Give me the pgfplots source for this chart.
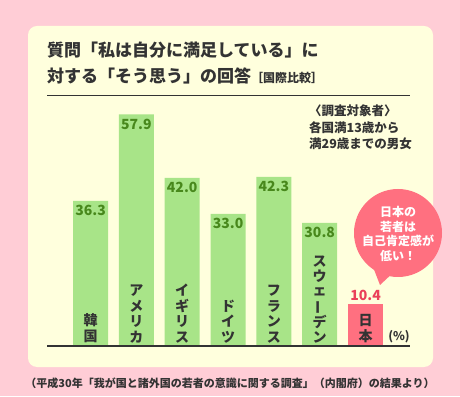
\documentclass[border=0pt]{standalone}
\usepackage{fontspec}
\setmainfont{Noto Sans CJK JP}
\usepackage{pgfplots}
\pgfplotsset{compat=1.18}
\definecolor{bgpink}{RGB}{255,205,214}
\definecolor{cream}{RGB}{255,255,221}
\definecolor{bargreen}{RGB}{168,228,136}
\definecolor{numgreen}{RGB}{72,136,28}
\definecolor{jpred}{RGB}{255,112,128}
\definecolor{jptext}{RGB}{234,64,90}
\definecolor{ink}{RGB}{51,51,51}
\newcommand{\fs}[2]{\fontsize{#1}{#2}\selectfont}
\begin{document}
\begin{tikzpicture}[x=1pt,y=1pt]
\fill[bgpink] (0,0) rectangle (460,396);
\fill[cream, rounded corners=9pt] (28,29) rectangle (433,370);
\node[anchor=west, inner sep=0, text=ink, font=\fs{17}{20}\bfseries] at (47,346) {質問「私は自分に満足している」に};
\node[anchor=west, inner sep=0, text=ink, font=\fs{17}{20}\bfseries] at (47,320) {対する「そう思う」の回答{\fs{12}{14}［国際比較］}};
\draw[ink, line width=0.8pt] (47,301) -- (410,301);
\node[anchor=north west, inner sep=0, align=left, text=ink, font=\fs{12.5}{16.5}\bfseries] at (309,291) {〈調査対象者〉\\各国満13歳から\\満29歳までの男女};
\begin{axis}[at={(47pt,50pt)}, anchor=south west, scale only axis, width=363pt, height=240pt,
  xmin=-0.95, xmax=6.97, ymin=0, ymax=60,
  axis x line*=bottom, axis y line=none,
  x axis line style={-, line width=1.4pt, color=ink},
  xtick=\empty, ytick=\empty, clip=false, axis on top,
  /pgf/number format/assume math mode=true]
\addplot[ybar, bar width=35pt, bar shift=0pt, fill=bargreen, draw=none,
  nodes near coords={\pgfmathprintnumber[fixed,fixed zerofill,precision=1]{\pgfplotspointmeta}},
  nodes near coords style={anchor=north, yshift=-1pt, font=\fs{14}{16}\bfseries, color=numgreen}]
  coordinates {(0,36.3) (1,57.9) (2,42.0) (3,33.0) (4,42.3) (5,30.8)};
\addplot[ybar, bar width=35pt, bar shift=0pt, fill=jpred, draw=none,
  nodes near coords={\pgfmathprintnumber[fixed,fixed zerofill,precision=1]{\pgfplotspointmeta}},
  nodes near coords style={anchor=south, yshift=0pt, font=\fs{14}{16}\bfseries, color=jptext}]
  coordinates {(6,10.4)};
\tikzset{cat/.style={anchor=south, align=center, inner sep=0, yshift=3pt, text=ink, font=\fs{14}{15.5}\bfseries}}
\node[cat] at (axis cs:0,0) {韓\\国};
\node[cat] at (axis cs:1,0) {ア\\メ\\リ\\カ};
\node[cat] at (axis cs:2,0) {イ\\ギ\\リ\\ス};
\node[cat] at (axis cs:3,0) {ド\\イ\\ツ};
\node[cat] at (axis cs:4,0) {フ\\ラ\\ン\\ス};
\node[cat, font=\fs{14}{14.6}\bfseries] at (axis cs:5,0) {ス\\ウ\\ェ\\\rotatebox[origin=c]{90}{ー}\\デ\\ン};
\node[cat] at (axis cs:6,0) {日\\本};
\end{axis}
\node[anchor=center, inner sep=0, text=ink, font=\fs{12}{14}\bfseries] at (399,59) {(\%)};
\fill[jpred] (398,163) circle (44);
\fill[jpred] (368,142) -- (380,111) -- (396,126) -- cycle;
\node[align=center, inner sep=0, text=white, font=\fs{12}{14.5}\bfseries] at (398,162) {日本の\\若者は\\自己肯定感が\\低い！};
\node[anchor=center, inner sep=0, text=ink, font=\fs{11}{13}\bfseries] at (230,13) {（平成30年「我が国と諸外国の若者の意識に関する調査」（内閣府）の結果より）};
\end{tikzpicture}
\end{document}
